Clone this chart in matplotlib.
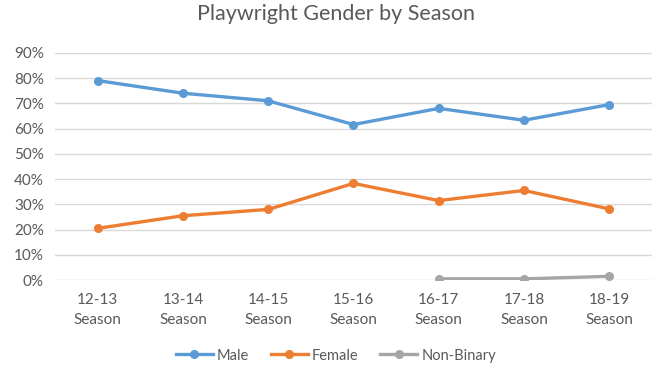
import matplotlib
matplotlib.use("Agg")
import matplotlib.pyplot as plt
from matplotlib.ticker import PercentFormatter

plt.rcParams['font.family'] = ['Lato', 'DejaVu Sans']

seasons = ['12-13\nSeason', '13-14\nSeason', '14-15\nSeason', '15-16\nSeason',
           '16-17\nSeason', '17-18\nSeason', '18-19\nSeason']
male = [0.79, 0.74, 0.71, 0.616, 0.68, 0.633, 0.695]
female = [0.205, 0.255, 0.28, 0.383, 0.315, 0.355, 0.282]
nb_seasons = [4, 5, 6]
non_binary = [0.005, 0.005, 0.015]

grey = '#595959'

fig = plt.figure(figsize=(6.72, 3.72), dpi=100)
ax = fig.add_axes([0.082, 0.247, 0.888, 0.611])

x = list(range(len(seasons)))
m, = ax.plot(x, male, color='#5B9BD5', lw=2.4, marker='o', ms=5.5, zorder=3)
f, = ax.plot(x, female, color='#ED7D31', lw=2.4, marker='o', ms=5.5, zorder=3)
n, = ax.plot(nb_seasons, non_binary, color='#A5A5A5', lw=2.4, marker='o', ms=5.5, zorder=3)

ax.set_xlim(-0.5, len(seasons) - 0.5)
ax.set_ylim(0, 0.9)
ax.set_yticks([i / 10 for i in range(10)])
ax.yaxis.set_major_formatter(PercentFormatter(1.0, decimals=0))
ax.set_xticks(x)
ax.set_xticklabels(seasons, linespacing=1.6)
ax.grid(axis='y', color='#D9D9D9', lw=1)
ax.set_axisbelow(True)
for s in ax.spines.values():
    s.set_visible(False)
ax.tick_params(length=0, colors=grey, labelsize=11)
ax.tick_params(axis='x', pad=9)
ax.tick_params(axis='y', pad=8)

fig.suptitle('Playwright Gender by Season', color=grey, fontsize=15.5, y=0.99)

m.set_label('Male')
f.set_label('Female')
n.set_label('Non-Binary')
fig.legend(handles=[m, f, n], loc='lower center', ncol=3, frameon=False,
           bbox_to_anchor=(0.5, -0.01), labelcolor=grey, fontsize=10.5,
           handlelength=2.5, columnspacing=1.5, handletextpad=0.3)

plt.savefig('out.png', dpi=100)
